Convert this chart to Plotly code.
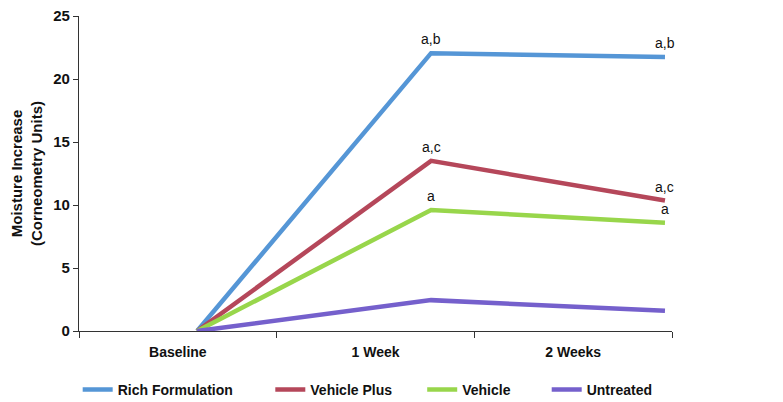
import plotly.graph_objects as go

categories = ["Baseline", "1 Week", "2 Weeks"]
series_names = ["Rich Formulation", "Vehicle Plus", "Vehicle", "Untreated"]
rich = [0, 22.05, 21.75]
vehicle_plus = [0, 13.5, 10.35]
vehicle = [0, 9.6, 8.6]
untreated = [0, 2.45, 1.6]
labels_rich = ["", "a,b", "a,b"]
labels_vplus = ["", "a,c", "a,c"]
labels_vehicle = ["", "a", "a"]
colors = ["#5596D6", "#B5475A", "#98D64B", "#7560CC"]

series = [rich, vehicle_plus, vehicle, untreated]
label_sets = [labels_rich, labels_vplus, labels_vehicle, None]
pos = list(range(len(categories)))

# x range: data points sit off-centre of the category bands (as in the original)
x0, x1 = -0.505, 2.03
band = (x1 - x0) / len(categories)
boundaries = [x0 + k * band for k in range(len(categories) + 1)]
centers = [x0 + (k + 0.5) * band for k in range(len(categories))]

FONT = "Liberation Sans, Arial"

fig = go.Figure()
legend_x = [0.089, 0.335, 0.529, 0.688]
for i, (name, vals) in enumerate(zip(series_names, series)):
    lg = "legend" if i == 0 else f"legend{i+1}"
    fig.add_trace(go.Scatter(x=pos, y=vals, mode="lines", name=name,
                             line=dict(color=colors[i], width=4.5),
                             legend=lg, cliponaxis=False, showlegend=True))

annotations = []
for labs, vals in zip(label_sets, series):
    if labs is None:
        continue
    for p, v, t in zip(pos, vals, labs):
        if t:
            annotations.append(dict(x=p, y=v, xref="x", yref="y", text=t,
                                    showarrow=False, yshift=14,
                                    font=dict(family=FONT, size=14, color="#111")))

legend_common = dict(orientation="h", yanchor="middle", y=0.05, xanchor="left",
                     font=dict(family=FONT, size=14, color="#111", weight="bold"),
                     bgcolor="rgba(0,0,0,0)", itemwidth=30,
                     xref="container", yref="container")
layout_legends = {}
for i in range(4):
    key = "legend" if i == 0 else f"legend{i+1}"
    layout_legends[key] = dict(legend_common, x=legend_x[i])

fig.update_layout(
    width=783, height=402,
    showlegend=True,
    margin=dict(l=71, r=119, t=8, b=79, autoexpand=False),
    paper_bgcolor="white", plot_bgcolor="white",
    font=dict(family=FONT, color="#111"),
    xaxis=dict(range=[x0, x1], tickmode="array", tickvals=centers, ticktext=categories,
               ticks="", showline=True, linecolor="#333", linewidth=1.2,
               showgrid=False, zeroline=False, automargin=False,
               minor=dict(tickmode="array", tickvals=boundaries, ticks="outside",
                          ticklen=6, tickcolor="#333", showgrid=False),
               tickfont=dict(family=FONT, size=14, color="#111", weight="bold"),
               ticklabelstandoff=8),
    yaxis=dict(range=[0, 25], dtick=5, ticks="outside", ticklen=5, tickcolor="#333",
               showline=True, linecolor="#333", linewidth=1.2,
               showgrid=False, zeroline=False, automargin=False,
               ticklabeloverflow="allow",
               tickfont=dict(family=FONT, size=15, color="#111", weight="bold"),
               title=dict(text="Moisture Increase<br>(Corneometry Units)",
                          font=dict(family=FONT, size=15, color="#111", weight="bold"),
                          standoff=26)),
    annotations=annotations,
    **layout_legends,
)

fig.write_html("out.html")
